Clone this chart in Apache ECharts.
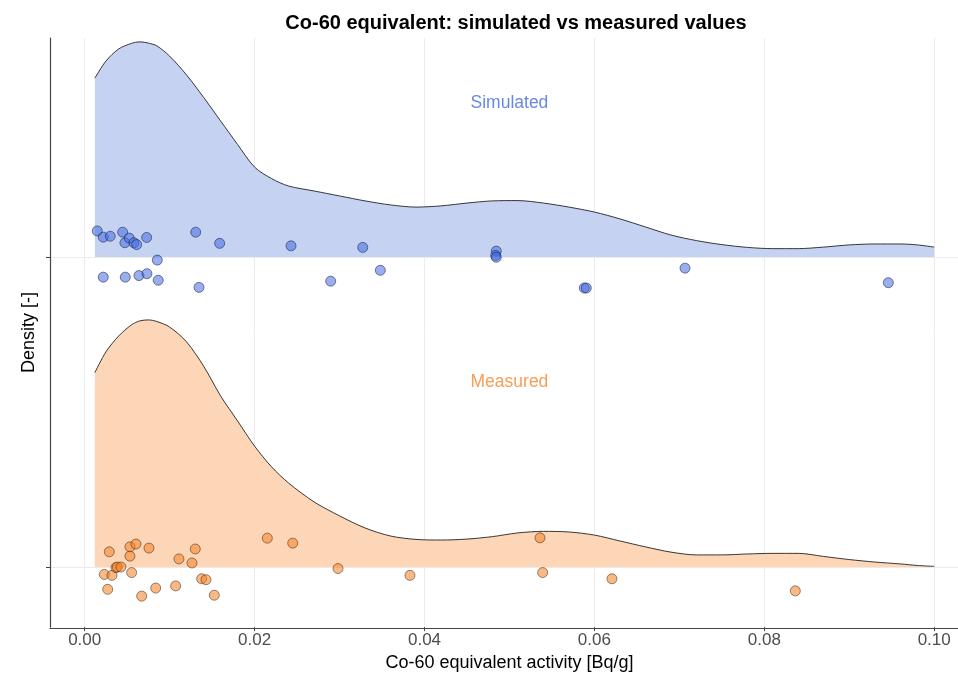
<!DOCTYPE html>
<html>
<head>
<meta charset="utf-8">
<script src="https://cdn.jsdelivr.net/npm/echarts@6/dist/echarts.min.js"></script>
<style>
  html, body { margin: 0; padding: 0; background: #fff; }
  #main { width: 958px; height: 677px; }
</style>
</head>
<body>
<div id="main"></div>
<script>
// 密度曲线的x位置 (Bq/g)
var densX = [0.0012, 0.0025, 0.004, 0.0055, 0.0065, 0.0075, 0.0085, 0.010, 0.012, 0.014,
  0.016, 0.018, 0.020, 0.022, 0.024, 0.027, 0.030, 0.033, 0.036, 0.039,
  0.042, 0.045, 0.048, 0.051, 0.054, 0.057, 0.060, 0.063, 0.066, 0.069,
  0.072, 0.075, 0.078, 0.081, 0.084, 0.087, 0.090, 0.093, 0.096, 0.098, 0.100];

// 密度高度 (以行距为单位)
var simDensity = [0.577, 0.632, 0.671, 0.689, 0.694, 0.690, 0.681, 0.648, 0.587, 0.515,
  0.439, 0.363, 0.290, 0.253, 0.229, 0.213, 0.197, 0.181, 0.168, 0.161,
  0.165, 0.174, 0.181, 0.182, 0.174, 0.161, 0.145, 0.123, 0.097, 0.071,
  0.053, 0.040, 0.031, 0.027, 0.027, 0.032, 0.039, 0.042, 0.042, 0.039, 0.032];
var measDensity = [0.627, 0.694, 0.745, 0.781, 0.794, 0.797, 0.792, 0.774, 0.726, 0.648,
  0.552, 0.471, 0.390, 0.323, 0.271, 0.210, 0.165, 0.126, 0.100, 0.089,
  0.087, 0.090, 0.098, 0.110, 0.115, 0.113, 0.103, 0.084, 0.065, 0.048,
  0.039, 0.039, 0.042, 0.044, 0.044, 0.034, 0.024, 0.016, 0.010, 0.005, 0.002];

// 散点 (活度, 抖动后的y)
var simPoints = [
  [0.00148, 2.084], [0.00219, 2.064], [0.00301, 2.067], [0.00447, 2.080], [0.00474, 2.046],
  [0.00525, 2.061], [0.00580, 2.046], [0.00612, 2.040], [0.00730, 2.063], [0.00855, 1.990],
  [0.00219, 1.935], [0.00478, 1.935], [0.00639, 1.940], [0.00733, 1.946], [0.00866, 1.925],
  [0.01307, 2.080], [0.01346, 1.902], [0.01589, 2.044], [0.02429, 2.036], [0.02896, 1.922],
  [0.03273, 2.031], [0.03480, 1.957], [0.04845, 2.019], [0.04838, 2.005], [0.04845, 1.999],
  [0.05881, 1.900], [0.05905, 1.900], [0.07067, 1.964], [0.09460, 1.917]
];
var measPoints = [
  [0.00290, 1.049], [0.00231, 0.976], [0.00321, 0.973], [0.00271, 0.928], [0.00368, 0.998],
  [0.00384, 1.000], [0.00427, 1.000], [0.00533, 1.065], [0.00604, 1.074], [0.00533, 1.035],
  [0.00757, 1.061], [0.00553, 0.982], [0.00671, 0.906], [0.00836, 0.932], [0.01071, 0.939],
  [0.01110, 1.026], [0.01263, 1.013], [0.01302, 1.058], [0.01377, 0.962], [0.01428, 0.959],
  [0.01526, 0.909], [0.02150, 1.093], [0.02449, 1.077], [0.02982, 0.995], [0.03829, 0.973],
  [0.05360, 1.094], [0.05391, 0.982], [0.06207, 0.962], [0.08365, 0.923]
];

var xTicks = [0, 0.02, 0.04, 0.06, 0.08, 0.10];
var groups = ['Measured', 'Simulated'];   // 基线 y = 1, 2
var labelPos = [[0.05, 1.597], [0.05, 2.497]];

var font = 'Liberation Sans, Arial, sans-serif';
var axisCol = '#444';
var gridCol = '#ebebeb';

function ridge(base, dens) {
  return densX.map(function (x, i) { return [x, base + dens[i]]; });
}

var chart = echarts.init(document.getElementById('main'));

var option = {
  backgroundColor: '#fff',
  animation: false,
  title: {
    text: 'Co-60 equivalent: simulated vs measured values',
    left: 511, top: 8, textAlign: 'center',
    textStyle: { fontFamily: font, fontSize: 20, fontWeight: 'bold', color: '#000' }
  },
  grid: [
    // 0: 刻度标签与竖直网格线
    { left: 84.7, width: 849.5, top: 38, bottom: 49 },
    // 1: 数据 (基线 1..2)
    { left: 50, right: 0, top: 257, height: 310 }
  ],
  xAxis: [{
    gridIndex: 0, type: 'value', min: 0, max: 0.1, interval: 0.02,
    axisLine: { show: false, onZero: false },
    axisTick: { show: true, length: 4, lineStyle: { color: axisCol } },
    axisLabel: {
      margin: 5, color: '#4d4d4d', fontFamily: font, fontSize: 17,
      formatter: function (v) { return v.toFixed(2); }
    },
    splitLine: { show: true, lineStyle: { color: gridCol, width: 1 } },
    name: 'Co-60 equivalent activity [Bq/g]', nameLocation: 'middle', nameGap: 25,
    nameTextStyle: { fontFamily: font, fontSize: 18, color: '#000' }
  }, {
    gridIndex: 1, type: 'value', min: -0.00408, max: 0.1028,
    offset: 61,
    axisLine: { show: true, onZero: false, lineStyle: { color: axisCol, width: 1.2 } },
    axisTick: { show: false }, axisLabel: { show: false }, splitLine: { show: false }
  }],
  yAxis: [{
    gridIndex: 0, type: 'value', min: 0, max: 1, offset: 34.7,
    axisLine: { show: true, onZero: false, lineStyle: { color: axisCol, width: 1.2 } },
    axisTick: { show: false }, axisLabel: { show: false }, splitLine: { show: false },
    name: 'Density [-]', nameLocation: 'middle', nameRotate: 90, nameGap: 12,
    nameTextStyle: { fontFamily: font, fontSize: 18, color: '#000' }
  }, {
    gridIndex: 1, type: 'value', min: 1, max: 2, interval: 1,
    axisLine: { show: false, onZero: false },
    axisTick: { show: true, length: 4, lineStyle: { color: axisCol } },
    axisLabel: { show: false },
    splitLine: { show: true, lineStyle: { color: gridCol, width: 1 } }
  }],
  series: [{
    name: 'Simulated density', type: 'line', xAxisIndex: 1, yAxisIndex: 1,
    data: ridge(2, simDensity), smooth: 0.3, showSymbol: false, clip: false, z: 2,
    lineStyle: { color: '#222', width: 0.9 },
    areaStyle: { color: '#c5d2f2', opacity: 1, origin: 2 }
  }, {
    name: 'Measured density', type: 'line', xAxisIndex: 1, yAxisIndex: 1,
    data: ridge(1, measDensity), smooth: 0.3, showSymbol: false, clip: false, z: 2,
    lineStyle: { color: '#222', width: 0.9 },
    areaStyle: { color: '#fcd6b6', opacity: 1, origin: 1 }
  }, {
    name: 'Simulated', type: 'scatter', xAxisIndex: 1, yAxisIndex: 1,
    data: simPoints, symbolSize: 10, clip: false, z: 5,
    itemStyle: { color: 'rgba(65,105,225,0.68)', borderColor: 'rgba(20,30,60,0.85)', borderWidth: 0.8 }
  }, {
    name: 'Measured', type: 'scatter', xAxisIndex: 1, yAxisIndex: 1,
    data: measPoints, symbolSize: 10, clip: false, z: 5,
    itemStyle: { color: 'rgba(245,130,40,0.7)', borderColor: 'rgba(70,40,15,0.85)', borderWidth: 0.8 }
  }, {
    name: 'labels', type: 'scatter', xAxisIndex: 1, yAxisIndex: 1, clip: false,
    symbolSize: 1, silent: true, z: 6,
    itemStyle: { color: 'transparent' },
    data: groups.map(function (g, i) {
      return {
        value: labelPos[i], name: g,
        label: { color: i === 0 ? '#f5852a' : '#4169e1' }
      };
    }),
    label: {
      show: true, position: 'inside', formatter: '{b}',
      fontFamily: font, fontSize: 17.5
    }
  }]
};

chart.setOption(option);
</script>
</body>
</html>
